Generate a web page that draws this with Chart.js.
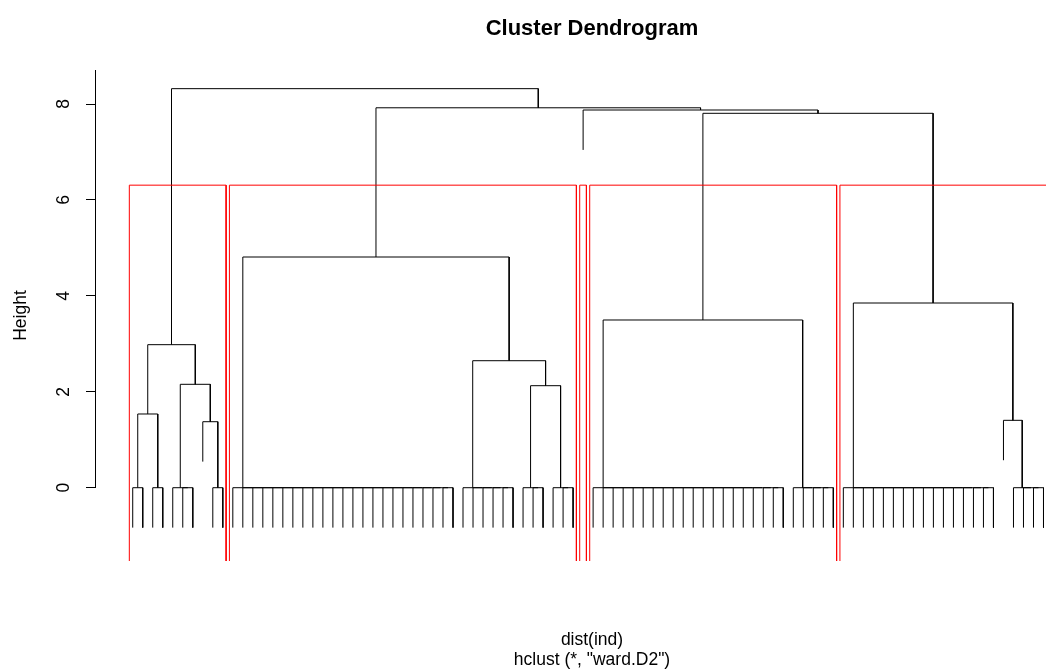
<!DOCTYPE html>
<html>
<head>
<meta charset="utf-8">
<title>Cluster Dendrogram</title>
<script src="https://cdn.jsdelivr.net/npm/chart.js@4.4.1/dist/chart.umd.min.js"></script>
<style>
  html, body { margin: 0; padding: 0; background: #fff; }
</style>
</head>
<body>
<canvas id="dendro" width="1046" height="669"></canvas>
<script>
// hclust(dist(ind), "ward.D2") merge tree, read top-down.
// A node is [height, left, right]; a bare number k is a block of k leaves
// tied at height 0 (k = 1 is a single leaf).
const tree =
  [8.32,
    [2.982, [1.537, 2, 2], [2.156, 3, [1.376, 1, 2]]],
    [7.921,
      [4.81, 23, [2.648, 6, [2.127, 3, 3]]],
      [7.875, 1,
        [7.806,
          [3.497, 20, 5],
          [3.851, 16, [1.405, 1, 4]]]]]];

const clusterCount = 5;          // rect.hclust(k = 5)
const heightTicks = [0, 2, 4, 6, 8];
const hang = 0.1;
const yRange = [-1.528, 8.709];  // par("usr") in height units
const xRange = [-2.67, 92.25];   // leaf index units, right side cut by the device

const mainTitle = 'Cluster Dendrogram';
const xLabel = 'dist(ind)';
const subTitle = 'hclust (*, "ward.D2")';
const yLabel = 'Height';

const FONT = '"Liberation Sans", Arial, sans-serif';

// ---- layout of the tree (same rules as plot.hclust) ----
function size(node) {
  return typeof node === 'number' ? node : size(node[1]) + size(node[2]);
}
function maxHeight(node) {
  return typeof node === 'number' ? 0 : Math.max(node[0], maxHeight(node[1]), maxHeight(node[2]));
}
function heights(node, out) {
  if (typeof node !== 'number') {
    out.push(node[0]);
    heights(node[1], out);
    heights(node[2], out);
  }
  return out;
}

const drop = hang * maxHeight(tree);
const dendroPts = [];
let nextLeaf = 1;

function join(h, a, b) {
  const low = c => (c.h === null ? h - drop : c.h);
  dendroPts.push(
    { x: a.x, y: low(a) }, { x: a.x, y: h },
    { x: b.x, y: h }, { x: b.x, y: low(b) },
    { x: null, y: null }
  );
  return { x: (a.x + b.x) / 2, h };
}

function place(node) {
  if (typeof node === 'number') {
    const xs = [];
    for (let i = 0; i < node; i++) xs.push(nextLeaf++);
    // tied leaves chain in from the right
    let acc = { x: xs[node - 1], h: null };
    for (let i = node - 2; i >= 0; i--) acc = join(0, { x: xs[i], h: null }, acc);
    return acc;
  }
  const left = place(node[1]);
  const right = place(node[2]);
  return join(node[0], left, right);
}
place(tree);

// ---- cutree / rect.hclust ----
const sortedH = heights(tree, []).sort((a, b) => b - a);
const cutHeight = (sortedH[clusterCount - 2] + sortedH[clusterCount - 1]) / 2;
const clusters = [];
let firstLeaf = 1;
function cut(node) {
  if (typeof node === 'number' || node[0] < cutHeight) {
    const n = size(node);
    clusters.push([firstLeaf, firstLeaf + n - 1]);
    firstLeaf += n;
    return;
  }
  cut(node[1]);
  cut(node[2]);
}
cut(tree);

const rectPts = [];
clusters.forEach(([a, b]) => {
  const l = a - 1 + 0.66, r = b + 0.33;
  rectPts.push(
    { x: l, y: yRange[0] }, { x: l, y: cutHeight },
    { x: r, y: cutHeight }, { x: r, y: yRange[0] },
    { x: null, y: null }
  );
});

// titles and the R-style axis line (only from 0 upwards)
const rDecor = {
  id: 'rDecor',
  afterDraw(chart) {
    const { ctx, chartArea, scales } = chart;
    const cx = 592;
    ctx.save();
    ctx.fillStyle = '#000';
    ctx.textAlign = 'center';
    ctx.textBaseline = 'alphabetic';
    ctx.font = 'bold 22px ' + FONT;
    ctx.fillText(mainTitle, cx, 35);
    ctx.font = '17.5px ' + FONT;
    ctx.fillText(xLabel, cx, 645);
    ctx.fillText(subTitle, cx, 664.5);

    ctx.strokeStyle = '#000';
    ctx.lineWidth = 1;
    ctx.beginPath();
    ctx.moveTo(chartArea.left - 0.5, scales.y.getPixelForValue(0));
    ctx.lineTo(chartArea.left - 0.5, chartArea.top);
    ctx.stroke();
    ctx.restore();
  }
};

new Chart(document.getElementById('dendro').getContext('2d'), {
  type: 'scatter',
  data: {
    datasets: [
      {
        label: 'rect.hclust',
        data: rectPts,
        showLine: true,
        borderColor: '#ff0000',
        borderWidth: 1,
        pointRadius: 0,
        spanGaps: false,
        clip: false,
      },
      {
        label: 'dendrogram',
        data: dendroPts,
        showLine: true,
        borderColor: '#000000',
        borderWidth: 1,
        pointRadius: 0,
        spanGaps: false,
        clip: false,
      },
    ],
  },
  options: {
    responsive: false,
    animation: false,
    layout: { padding: { top: 70, bottom: 108, left: 0, right: 0 } },
    plugins: {
      legend: { display: false },
      tooltip: { enabled: false },
    },
    scales: {
      x: {
        type: 'linear',
        display: false,
        min: xRange[0],
        max: xRange[1],
      },
      y: {
        type: 'linear',
        min: yRange[0],
        max: yRange[1],
        afterBuildTicks: s => { s.ticks = heightTicks.map(v => ({ value: v })); },
        afterFit: s => { s.width = 96; },
        border: { display: false },
        grid: {
          drawOnChartArea: false,
          drawTicks: true,
          tickLength: 10,
          color: '#000',
          lineWidth: 1,
        },
        ticks: {
          minRotation: 90,
          maxRotation: 90,
          crossAlign: 'center',
          padding: 17,
          color: '#000',
          font: { family: FONT, size: 17.5 },
        },
        title: {
          display: true,
          text: yLabel,
          color: '#000',
          font: { family: FONT, size: 17.5, lineHeight: 1.2 },
          padding: { top: 11, bottom: 0 },
        },
      },
    },
  },
  plugins: [rDecor],
});
</script>
</body>
</html>
